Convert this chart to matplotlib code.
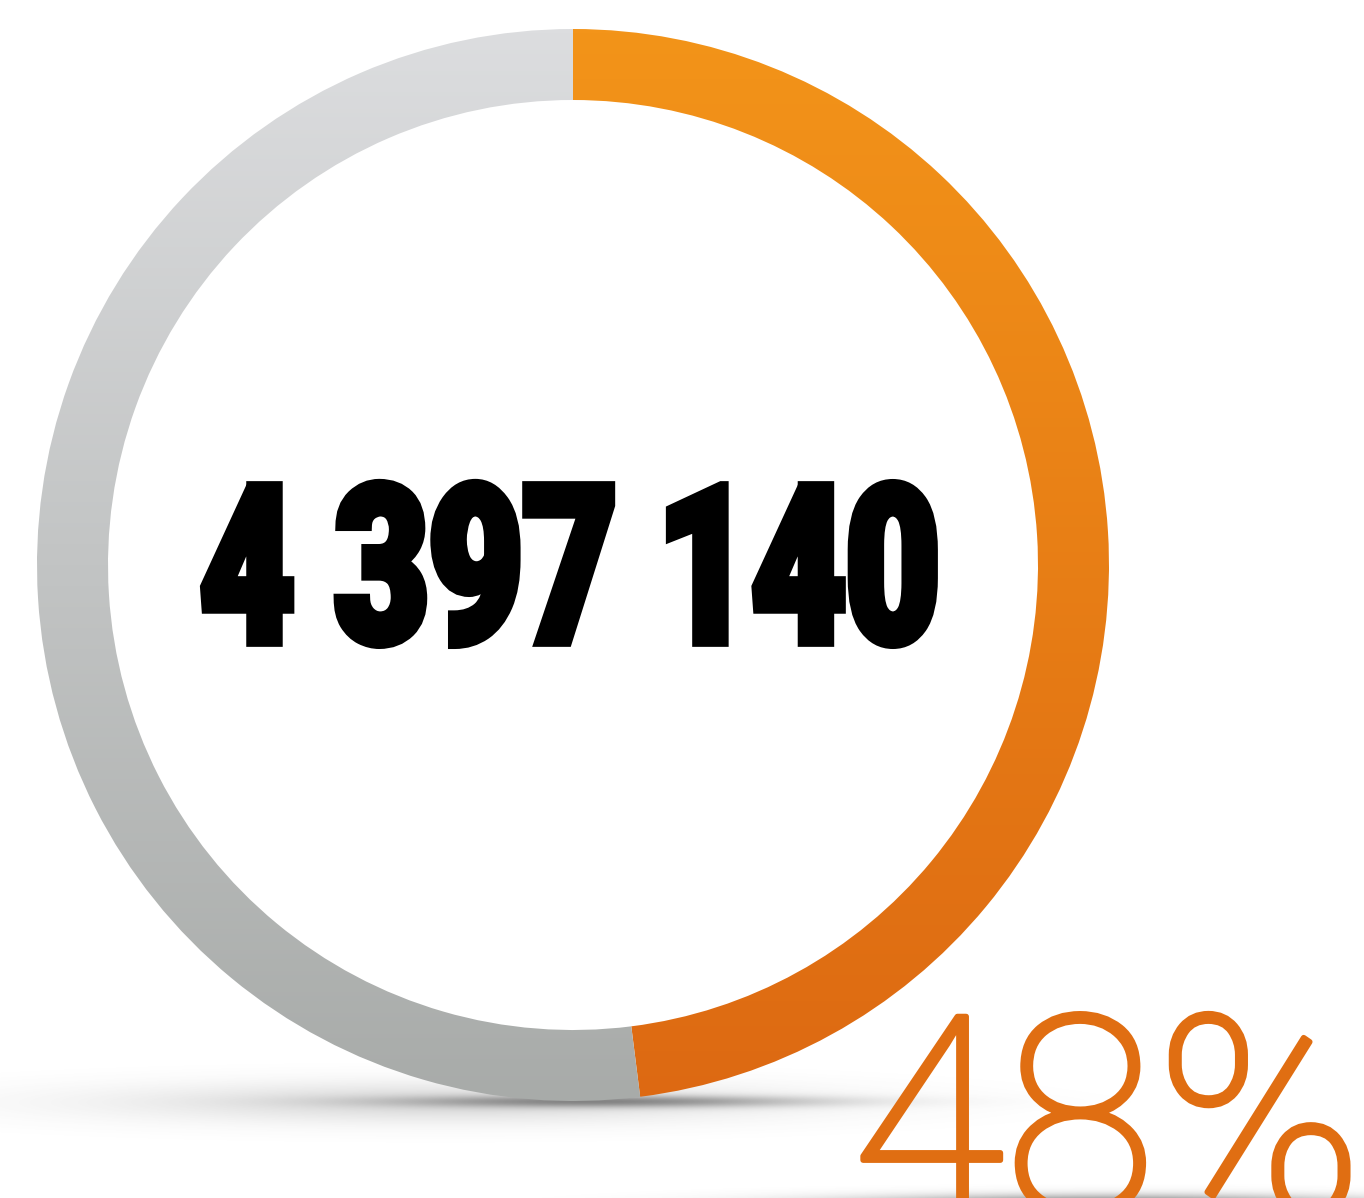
import numpy as np
import matplotlib.pyplot as plt
from matplotlib.patches import Wedge
from matplotlib.colors import LinearSegmentedColormap
from matplotlib.patheffects import AbstractPathEffect, Stroke, Normal
from matplotlib.transforms import Affine2D

# data
share = [48, 52]                       # orange part, grey rest (percent)
total_label = "4 397 140"
pct_label = "48%"
top_colors = ["#F39419", "#DCDDDF"]    # gradient top
bottom_colors = ["#DD6912", "#A8ABA9"] # gradient bottom

W, H = 1364, 1198
fig = plt.figure(figsize=(W / 100, H / 100), dpi=100)
ax = fig.add_axes([0, 0, 1, 1])
ax.set_xlim(0, W)
ax.set_ylim(0, H)
ax.axis('off')

cx, cy = 573, H - 565   # ring centre (y up)
r_out, width = 536, 71


class Squeeze(AbstractPathEffect):
    """squeeze glyphs horizontally about x0 and fatten with a stroke"""
    def __init__(self, sx, x0, lw):
        super().__init__()
        self.sx, self.x0, self.lw = sx, x0, lw

    def draw_path(self, renderer, gc, tpath, affine, rgbFace=None):
        a = affine + Affine2D().translate(-self.x0, 0).scale(self.sx, 1).translate(self.x0, 0)
        gc0 = renderer.new_gc()
        gc0.copy_properties(gc)
        gc0.set_linewidth(self.lw)
        gc0.set_foreground(rgbFace)
        gc0.set_joinstyle('miter')
        renderer.draw_path(gc0, tpath, a, rgbFace)
        gc0.restore()


# soft shadows (pixel grid, top-down rows)
xx, yy = np.meshgrid(np.arange(W), np.arange(H))
def blob(x0, y0, sx, sy, a):
    return a * np.exp(-((xx - x0) / sx) ** 2 - ((yy - y0) / sy) ** 2)
alpha = blob(610, 1101, 210, 6, 0.55) + blob(440, 1102, 330, 20, 0.22) \
    + blob(1110, 1204, 260, 9, 0.85)
alpha = np.clip(alpha, 0, 1)
shadow = np.zeros((H, W, 4))
shadow[..., :3] = 0.33
shadow[..., 3] = alpha
ax.imshow(shadow, extent=(0, W, 0, H), origin='upper', zorder=1, interpolation='bilinear')

# ring segments with vertical gradient
start = 90.0
grad = np.linspace(0, 1, 256)[:, None]
for val, c_top, c_bot in zip(share, top_colors, bottom_colors):
    sweep = 360.0 * val / sum(share)
    w = Wedge((cx, cy), r_out, start - sweep, start, width=width,
              facecolor='none', edgecolor='none')
    ax.add_patch(w)
    cmap = LinearSegmentedColormap.from_list('g', [c_bot, c_top])
    im = ax.imshow(grad, cmap=cmap, origin='lower', aspect='auto',
                   extent=(cx - r_out, cx + r_out, cy - r_out, cy + r_out),
                   zorder=2)
    im.set_clip_path(w)
    start -= sweep

ax.set_xlim(0, W)
ax.set_ylim(0, H)

# centre number (heavy, condensed look)
xc = 570
t = ax.text(xc, H - 642, total_label, ha='center', va='baseline',
            fontsize=158, fontweight='black', color='black', zorder=3,
            family=['Roboto', 'DejaVu Sans'])
t.set_path_effects([Squeeze(0.74, xc, 7)])

# percentage
p = ax.text(852, H - 1214, pct_label, ha='left', va='baseline',
            fontsize=200, fontweight='light', color='#E06E12', zorder=3,
            family=['Roboto', 'DejaVu Sans'])
p.set_path_effects([Stroke(linewidth=4, foreground='#E06E12'), Normal()])

fig.savefig('out.png', dpi=100)
